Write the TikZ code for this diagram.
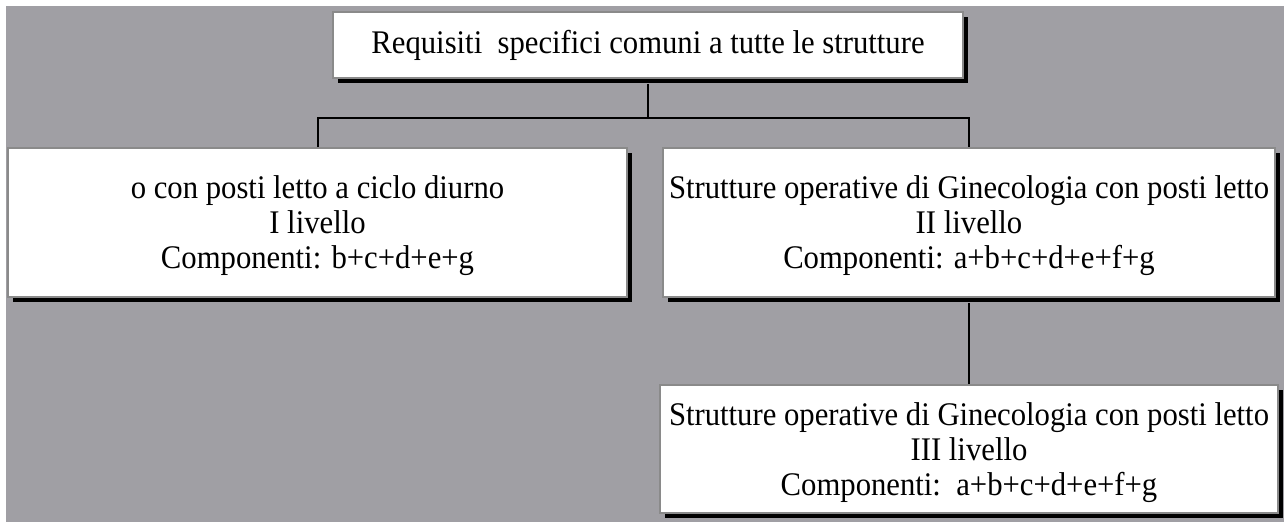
\documentclass[tikz,border=0pt]{standalone}
\usepackage{fontspec}
\setmainfont{Liberation Serif}[FakeStretch=0.93]
\usetikzlibrary{shadows}
\definecolor{bggray}{HTML}{A09FA4}
\definecolor{edgegray}{HTML}{8A8A8A}
\tikzset{
  orgbox/.style={draw=edgegray, line width=1.6pt, fill=white, rectangle, inner sep=0pt,
    align=center, font=\fontsize{33}{35}\selectfont,
    drop shadow={shadow xshift=5pt, shadow yshift=-5pt, fill=black, opacity=1}},
  link/.style={draw=black, line width=2pt}
}
\begin{document}
\begin{tikzpicture}[x=1pt,y=-1pt]
\useasboundingbox (0,0) rectangle (1284,523);
\fill[bggray] (6,6) rectangle (1284,522);
\node[orgbox, minimum width=630pt, minimum height=66pt] (top) at (648,45) {Requisiti\ \ specifici comuni a tutte le strutture};
\node[orgbox, minimum width=619pt, minimum height=149pt] (left) at (317.5,222.5) {\rule{0pt}{30pt}o con posti letto a ciclo diurno\\I livello\\Componenti: b+c+d+e+g};
\node[orgbox, minimum width=612pt, minimum height=149pt] (right) at (969,222.5) {\rule{0pt}{30pt}Strutture operative di Ginecologia con posti letto\\II livello\\Componenti: a+b+c+d+e+f+g};
\node[orgbox, minimum width=618pt, minimum height=128pt] (low) at (969,449) {\rule{0pt}{30pt}Strutture operative di Ginecologia con posti letto\\III livello\\Componenti:\ \ a+b+c+d+e+f+g};
\coordinate (j) at (648,118);
\draw[link] (top.south) ++(0,5) -- (j);
\draw[link] (left.north) -- (left.north |- j) -- (right.north |- j) -- (right.north);
\draw[link] (right.south) ++(0,5) -- (low.north);
\end{tikzpicture}
\end{document}
